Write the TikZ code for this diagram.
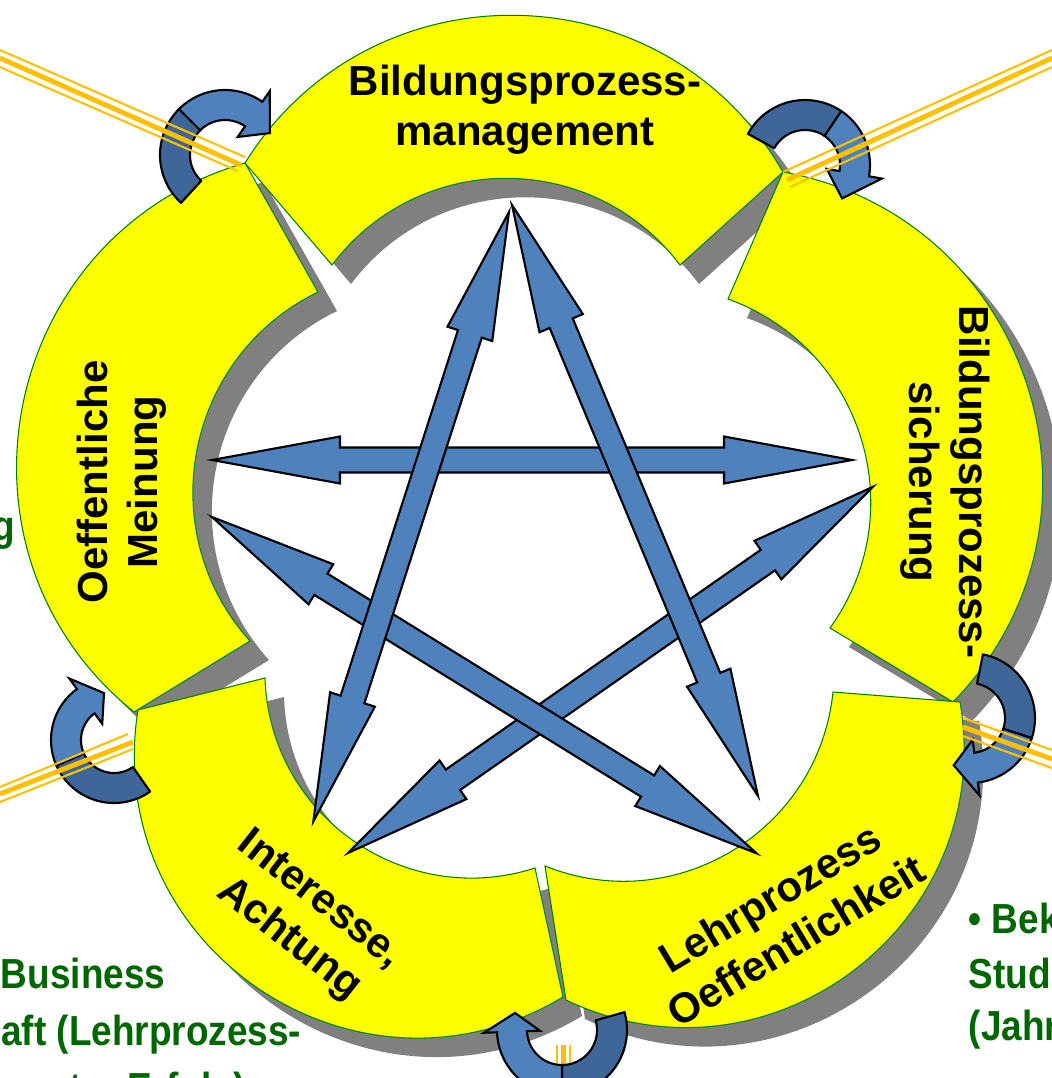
\documentclass[tikz,border=0pt]{standalone}
\usepackage{fontspec}
\setmainfont{Liberation Sans}
\usetikzlibrary{calc}
\definecolor{segyellow}{RGB}{255,255,0}
\definecolor{segline}{RGB}{0,128,0}
\definecolor{shadowgray}{RGB}{128,128,128}
\definecolor{starblue}{RGB}{79,129,189}
\definecolor{darkblue}{RGB}{62,102,152}
\definecolor{beamorange}{RGB}{255,192,0}
\definecolor{textgreen}{RGB}{0,102,0}
% segment outline: outer arc a->b, radial edge, inner arc back, radial edge
\newcommand\segpath[8]{(#1) .. controls ($(#1)!#5!#6:(#2)$) and ($(#2)!#5!-#6:(#1)$) .. (#2) -- (#3) .. controls ($(#3)!#7!-#8:(#4)$) and ($(#4)!#7!#8:(#3)$) .. (#4) -- cycle}
% curved arrow: cx, cy, r, tail angle, colour change angle, head angle, tip angle
\newcommand\curvedarrow[7]{%
  \filldraw[backband] plot[domain=#4:#5,samples=30] ({#1+(#3+15)*cos(\x)},{#2+(#3+15)*sin(\x)}) -- plot[domain=#5:#4,samples=30] ({#1+(#3-15)*cos(\x)},{#2+(#3-15)*sin(\x)}) -- cycle;
  \filldraw[frontband] plot[domain=#5:#6,samples=30] ({#1+(#3+15)*cos(\x)},{#2+(#3+15)*sin(\x)}) -- ({#1+(#3+28)*cos(#6)},{#2+(#3+28)*sin(#6)}) -- ({#1+#3*cos(#7)},{#2+#3*sin(#7)}) -- ({#1+(#3-28)*cos(#6)},{#2+(#3-28)*sin(#6)}) -- plot[domain=#6:#5,samples=30] ({#1+(#3-15)*cos(\x)},{#2+(#3-15)*sin(\x)}) -- cycle;}
% double headed block arrow from a start point, rotated
\newcommand\dblarrow[2]{%
  \filldraw[stararrow, shift={#1}, rotate=#2] (0,0) -- (128,23.5) -- (128,12.5) -- (512,12.5) -- (512,23.5) -- (640,0) -- (512,-23.5) -- (512,-12.5) -- (128,-12.5) -- (128,-23.5) -- cycle;}
\newcommand\narrowtext[1]{\scalebox{0.88}[1]{#1}}
\begin{document}
\begin{tikzpicture}[x=0.01cm, y=-0.01cm,
  seg/.style={fill=segyellow, draw=segline, line width=0.3pt},
  segshadow/.style={fill=shadowgray, transform canvas={xshift=0.19cm, yshift=-0.19cm}},
  stararrow/.style={fill=starblue, draw=black, line width=0.6pt, line join=miter},
  backband/.style={fill=darkblue, draw=black, line width=0.6pt, line join=round},
  frontband/.style={fill=starblue, draw=black, line width=0.6pt, line join=miter},
  lbl/.style={font=\bfseries\fontsize{11.95}{14.2}\selectfont, align=center, text=black, inner sep=0pt},
  gtxt/.style={font=\bfseries\fontsize{11.95}{14.2}\selectfont, text=textgreen, inner sep=0pt},
  thinbeam/.style={draw=beamorange, line width=0.6pt},
  thickbeam/.style={draw=beamorange, line width=1.4pt}]
\useasboundingbox (0,0) rectangle (1052,1078);
\clip (0,0) rectangle (1052,1078);
% corners of the five ring segments
\coordinate (o1) at (245,163);
\coordinate (o2) at (783,172);
\coordinate (o3a) at (953,702);
\coordinate (o3b) at (960,702);
\coordinate (o4a) at (566,1000);
\coordinate (o4b) at (563,997);
\coordinate (o5a) at (138,710);
\coordinate (o5b) at (134,712);
\coordinate (i1a) at (332,265);
\coordinate (i1b) at (680,265);
\coordinate (i2a) at (728,299);
\coordinate (i2b) at (830,628);
\coordinate (i3a) at (833,692);
\coordinate (i3b) at (545,866);
\coordinate (i4a) at (535,868);
\coordinate (i4b) at (265,678);
\coordinate (i5a) at (250,641);
\coordinate (i5b) at (318,292);
% bottom beam stub (behind the bottom curved arrow)
\draw[thinbeam] (557,1045) -- (557,1080);
\draw[thickbeam] (563.5,1045) -- (563.5,1080);
\draw[thinbeam] (570,1045) -- (570,1080);
% shadows
\fill[segshadow] \segpath{o1}{o2}{i1b}{i1a}{0.44}{59}{0.416}{53};
\fill[segshadow] \segpath{o2}{o3a}{i2b}{i2a}{0.454}{62}{0.416}{53};
\fill[segshadow] \segpath{o3b}{o4a}{i3b}{i3a}{0.456}{62.6}{0.416}{53};
\fill[segshadow] \segpath{o4b}{o5a}{i4b}{i4a}{0.469}{65}{0.416}{53};
\fill[segshadow] \segpath{o5b}{o1}{i5b}{i5a}{0.456}{62.5}{0.416}{53};
% segments
\filldraw[seg] \segpath{o1}{o2}{i1b}{i1a}{0.44}{59}{0.416}{53};
\filldraw[seg] \segpath{o2}{o3a}{i2b}{i2a}{0.454}{62}{0.416}{53};
\filldraw[seg] \segpath{o3b}{o4a}{i3b}{i3a}{0.456}{62.6}{0.416}{53};
\filldraw[seg] \segpath{o4b}{o5a}{i4b}{i4a}{0.469}{65}{0.416}{53};
\filldraw[seg] \segpath{o5b}{o1}{i5b}{i5a}{0.456}{62.5}{0.416}{53};
% labels
\node[lbl] (lbl1) at (525,110) {Bildungsprozess-\\management};
\node[lbl, rotate=-90] (lbl2) at (945,482) {Bildungsprozess-\\sicherung};
\node[lbl, rotate=31] (lbl3) at (783,919) {Lehrprozess\\Oeffentlichkeit};
\node[lbl, rotate=-38] (lbl4) at (304,920) {Interesse,\\Achtung};
\node[lbl, rotate=90] (lbl5) at (122,482) {Oeffentliche\\Meinung};
% star of double arrows
\dblarrow{(212,460)}{0}
\dblarrow{(348,853)}{34.9}
\dblarrow{(212,517)}{-31.7}
\dblarrow{(509,212)}{-107.8}
\dblarrow{(512,205)}{-67.4}
% curved arrows between segments
\curvedarrow{225}{155}{50}{132.6}{225}{305}{334}
\curvedarrow{805}{165}{50}{208.6}{304}{370}{402}
\curvedarrow{970}{718}{50}{281.5}{378}{443}{469}
\curvedarrow{562}{1030}{50}{344}{450}{538}{560}
\curvedarrow{114}{740}{48}{55}{156}{234}{258}
% orange beams
\draw[thinbeam] (0,50) -- (245,157);
\draw[thickbeam] (0,58) -- (241,165);
\draw[thinbeam] (0,67) -- (238,171);
\draw[thinbeam] (1052,50) -- (783,172);
\draw[thickbeam] (1052,58) -- (787,180);
\draw[thinbeam] (1052,67) -- (790,187);
\draw[thinbeam] (0,787) -- (128,734);
\draw[thickbeam] (0,794) -- (133,742);
\draw[thinbeam] (0,802) -- (133,749);
\draw[thinbeam] (963,718) -- (1052,750);
\draw[thickbeam] (963,727) -- (1052,759);
\draw[thinbeam] (963,736) -- (1052,768);
% green side texts (cut by the picture edge)
\node[gtxt, anchor=base east] (gleft) at (16,540) {\narrowtext{g}};
\node[gtxt, anchor=base east] (gbl1) at (166,988) {\narrowtext{Business}};
\node[gtxt, anchor=base east] (gbl2) at (302,1045) {\narrowtext{aft (Lehrprozess-}};
\node[gtxt, anchor=base east] (gbl3) at (247,1102) {\narrowtext{ter Erfolg)}};
\node[gtxt, anchor=base west] (gbr1) at (968,933) {\narrowtext{• Bek}};
\node[gtxt, anchor=base west] (gbr2) at (968,988) {\narrowtext{Stud}};
\node[gtxt, anchor=base west] (gbr3) at (968,1040) {\narrowtext{(Jahr}};
\end{tikzpicture}
\end{document}
